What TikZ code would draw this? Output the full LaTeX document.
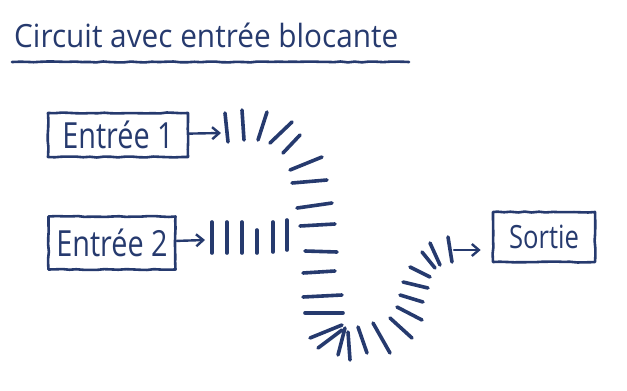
\documentclass[tikz,border=0pt]{standalone}
\usepackage{fontspec}
\setmainfont{Open Sans}
\newfontfamily\handfont[FakeStretch=0.8]{Open Sans}
\newfontfamily\headfont[FakeStretch=0.93]{Open Sans}
\usetikzlibrary{arrows.meta,decorations.pathmorphing}
\definecolor{ink}{RGB}{38,58,110}
\tikzset{
  sk/.style={draw=ink,decorate,decoration={random steps,segment length=7pt,
        amplitude=.5pt},line width=2.6pt,line cap=round,line join=round},
  skarrow/.style={draw=ink,line width=2.4pt,line cap=round,
        -{Straight Barb[length=7pt,width=12pt]}},
  tie/.style={draw=ink,line width=3.6pt,line cap=round},
  kBox/.style={sk,text=ink,inner sep=0pt,
        font=\handfont\fontsize{36}{38}\selectfont},
  kTitle/.style={text=ink,inner sep=0pt,anchor=base west,
        font=\headfont\fontsize{32}{34}\selectfont},
}
\begin{document}
\begin{tikzpicture}[x=1pt,y=-1pt]
\useasboundingbox (0,0) rectangle (627,391);
\node[kTitle] (title) at (14,47) {Circuit avec entrée blocante};
\draw[sk] (12,62) -- (409,62);
\node[kBox,minimum width=140pt,minimum height=44pt] (in1)  at (118,135) {Entrée 1};
\node[kBox,minimum width=127pt,minimum height=53pt] (in2)  at (112,243) {Entrée 2};
\node[kBox,minimum width=102pt,minimum height=50pt,
      font=\handfont\fontsize{32}{34}\selectfont] (out) at (544,237) {Sortie};
\coordinate (t1) at (221,133);
\coordinate (t2) at (205,240);
\coordinate (t3) at (454,250);
% main track, curving down and back up
\foreach \xa/\ya/\xb/\yb in {225/113/228/142, 242/110/244/140, 267/112/258/140,
    292/122/270/143, 300/135/283/153, 322/157/290/170, 327/180/292/183,
    332/203/297/208, 335/224/300/226, 337/252/305/251, 335/271/303/273,
    342/295/303/297, 343/313/305/313, 342/325/310/338, 342/330/318/348,
    345/328/338/355, 348/332/350/360, 358/327/367/353, 373/323/390/353,
    390/318/412/338, 397/307/422/320, 400/295/423/302, 403/282/428/288,
    410/267/430/277, 422/252/435/268, 430/243/440/265, 448/237/452/262}
  \draw[tie] (\xa,\ya) -- (\xb,\yb);
% blocked track
\foreach \xa/\ya/\yb in {212/222/253, 227/222/253, 242/222/253,
    257/230/253, 273/222/252, 287/220/250}
  \draw[tie] (\xa,\ya) -- (\xa,\yb);
\draw[skarrow] (in1) -- (t1);
\draw[skarrow] (in2) -- (t2);
\draw[skarrow,shorten >=11pt] (t3) -- (t3 -| out.west);
\end{tikzpicture}
\end{document}
